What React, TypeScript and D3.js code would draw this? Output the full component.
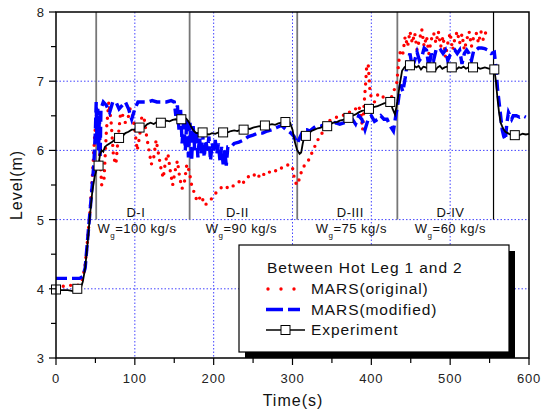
import React from 'react';
import * as d3 from 'd3';

// Time (s), level (m)
const marsOriginal: [number, number][] = [
  [0, 4.03], [5, 4.02], [10, 4.04], [15, 4.05], [20, 4.05], [25, 4.04], [30, 4.06], [34, 4.15],
  [37, 4.35], [40, 4.7], [43, 5.1], [46, 5.6], [49, 6.2], [52, 6.6], [55, 6.0], [58, 5.5],
  [61, 5.6], [64, 6.3], [67, 6.7], [70, 6.4], [73, 5.9], [76, 5.8], [79, 6.2], [82, 6.55],
  [85, 6.5], [88, 6.4], [91, 6.45], [94, 6.6], [97, 6.5], [100, 6.3], [103, 6.0], [106, 6.2],
  [109, 6.5], [112, 6.45], [115, 6.2], [118, 6.0], [121, 5.8], [124, 5.9], [127, 6.15], [130, 5.95],
  [133, 5.75], [136, 5.6], [139, 5.85], [142, 5.95], [145, 5.7], [148, 5.5], [151, 5.7], [154, 5.85],
  [157, 5.6], [160, 5.45], [163, 5.55], [166, 5.8], [169, 5.7], [172, 5.5], [175, 5.4], [178, 5.3],
  [181, 5.35], [184, 5.25], [187, 5.3], [190, 5.22], [193, 5.25], [196, 5.28], [200, 5.35], [204, 5.4],
  [208, 5.45], [212, 5.48], [216, 5.45], [220, 5.5], [224, 5.48], [228, 5.52], [232, 5.55], [236, 5.5],
  [240, 5.58], [244, 5.62], [248, 5.6], [252, 5.65], [256, 5.6], [260, 5.68], [264, 5.65], [268, 5.7],
  [272, 5.68], [276, 5.72], [280, 5.7], [284, 5.75], [288, 5.74], [292, 5.78], [296, 5.8], [300, 5.75],
  [303, 5.55], [306, 5.5], [309, 5.6], [312, 5.72], [316, 5.8], [320, 5.85], [324, 5.95], [328, 6.05],
  [332, 6.15], [336, 6.22], [340, 6.3], [344, 6.38], [348, 6.44], [352, 6.45], [356, 6.48], [360, 6.5],
  [364, 6.5], [368, 6.55], [372, 6.55], [376, 6.6], [380, 6.6], [384, 6.65], [387, 6.5], [389, 6.3],
  [391, 6.7], [393, 7.0], [394, 7.2], [396, 7.25], [398, 6.9], [400, 6.75], [404, 6.7], [408, 6.8],
  [412, 6.75], [416, 6.78], [420, 6.7], [424, 6.72], [428, 6.85], [432, 6.95], [435, 7.3], [437, 7.45],
  [440, 7.4], [443, 7.65], [446, 7.5], [449, 7.72], [452, 7.55], [455, 7.7], [458, 7.45], [461, 7.6],
  [464, 7.75], [467, 7.5], [470, 7.65], [473, 7.4], [476, 7.6], [479, 7.7], [482, 7.55], [485, 7.72],
  [488, 7.5], [491, 7.65], [494, 7.35], [497, 7.55], [500, 7.7], [503, 7.45], [506, 7.62], [509, 7.72],
  [512, 7.55], [515, 7.68], [518, 7.45], [521, 7.6], [524, 7.72], [527, 7.5], [530, 7.65], [533, 7.7],
  [536, 7.55], [539, 7.72], [542, 7.6], [545, 7.7],
];

const marsModified: [number, number][] = [
  [0, 4.15], [10, 4.15], [20, 4.15], [30, 4.15], [34, 4.18], [37, 4.3], [40, 4.7], [43, 5.1],
  [46, 5.5], [48, 5.8], [50, 6.3], [51, 6.7], [52, 6.1], [53, 6.6], [54, 6.0], [55, 6.5],
  [56, 5.9], [57, 6.6], [60, 6.7], [64, 6.65], [68, 6.55], [72, 6.7], [76, 6.7], [80, 6.6],
  [84, 6.65], [88, 6.7], [92, 6.6], [96, 6.45], [100, 6.6], [104, 6.7], [110, 6.7], [116, 6.7],
  [122, 6.72], [128, 6.7], [134, 6.7], [140, 6.7], [146, 6.72], [150, 6.7], [152, 6.5], [154, 6.65],
  [156, 6.3], [158, 6.6], [160, 6.1], [162, 6.5], [164, 6.0], [166, 6.45], [168, 5.9], [170, 6.4],
  [172, 5.85], [174, 6.35], [176, 6.0], [178, 6.3], [180, 5.9], [182, 6.2], [184, 5.95], [186, 6.25],
  [188, 5.9], [190, 6.15], [192, 6.0], [194, 6.2], [196, 5.85], [198, 6.1], [200, 6.0], [202, 6.15],
  [204, 5.95], [206, 6.1], [208, 5.85], [210, 6.05], [212, 5.8], [214, 6.0], [216, 5.78], [218, 6.05],
  [222, 6.05], [226, 6.1], [232, 6.12], [238, 6.15], [244, 6.2], [250, 6.22], [256, 6.25], [262, 6.25],
  [268, 6.28], [274, 6.3], [280, 6.33], [286, 6.36], [292, 6.3], [298, 6.25], [302, 6.2], [306, 6.1],
  [310, 6.2], [314, 6.3], [318, 6.3], [322, 6.28], [326, 6.32], [330, 6.35], [336, 6.35], [342, 6.38],
  [348, 6.35], [354, 6.4], [360, 6.38], [366, 6.4], [372, 6.42], [376, 6.45], [380, 6.38], [384, 6.5],
  [388, 6.45], [392, 6.3], [396, 6.45], [400, 6.5], [404, 6.42], [408, 6.45], [412, 6.5], [416, 6.45],
  [420, 6.45], [424, 6.35], [428, 6.28], [431, 6.5], [434, 6.7], [437, 6.95], [440, 6.85], [443, 7.05],
  [446, 7.3], [449, 7.4], [452, 7.2], [455, 7.3], [458, 7.42], [461, 7.3], [464, 7.35], [467, 7.48],
  [470, 7.45], [473, 7.2], [476, 7.4], [479, 7.3], [482, 7.45], [485, 7.42], [488, 7.45], [491, 7.4],
  [494, 7.45], [497, 7.3], [500, 7.38], [503, 7.42], [506, 7.45], [509, 7.4], [512, 7.45], [515, 7.25],
  [518, 7.4], [521, 7.45], [524, 7.4], [527, 7.3], [530, 7.45], [533, 7.45], [536, 7.48], [540, 7.48],
  [544, 7.47], [548, 7.45], [552, 7.4], [556, 7.42], [558, 7.2], [560, 6.9], [562, 6.7], [564, 6.5],
  [566, 6.3], [568, 6.2], [570, 6.15], [572, 6.4], [574, 6.55], [576, 6.5], [578, 6.45], [580, 6.5],
  [584, 6.5], [588, 6.48], [592, 6.5], [596, 6.48],
];

const experiment: [number, number][] = [
  [0, 3.98], [5, 3.98], [10, 3.98], [15, 3.98], [20, 3.97], [25, 3.96], [28, 3.98], [31, 4.0],
  [34, 4.1], [37, 4.3], [40, 4.65], [43, 5.05], [46, 5.4], [49, 5.62], [52, 5.75], [54, 5.8],
  [56, 5.95], [58, 6.0], [60, 5.98], [62, 6.05], [65, 6.08], [68, 6.1], [71, 6.12], [74, 6.15],
  [77, 6.17], [80, 6.18], [84, 6.2], [88, 6.25], [92, 6.27], [96, 6.3], [100, 6.3], [104, 6.33],
  [108, 6.36], [112, 6.34], [116, 6.38], [120, 6.4], [124, 6.38], [128, 6.41], [132, 6.4], [136, 6.42],
  [140, 6.43], [144, 6.42], [148, 6.44], [152, 6.45], [156, 6.44], [160, 6.46], [163, 6.48], [166, 6.45],
  [169, 6.4], [172, 6.33], [175, 6.28], [178, 6.25], [182, 6.25], [186, 6.26], [190, 6.24], [194, 6.23],
  [198, 6.25], [202, 6.24], [206, 6.26], [210, 6.25], [214, 6.27], [218, 6.26], [222, 6.28], [226, 6.29],
  [230, 6.28], [234, 6.3], [238, 6.3], [242, 6.32], [246, 6.31], [250, 6.33], [254, 6.34], [258, 6.35],
  [262, 6.34], [266, 6.36], [270, 6.37], [274, 6.38], [278, 6.37], [282, 6.39], [286, 6.4], [290, 6.41],
  [294, 6.43], [297, 6.4], [300, 6.3], [303, 6.12], [306, 6.0], [309, 5.95], [311, 5.97], [313, 6.1],
  [315, 6.2], [318, 6.23], [321, 6.25], [324, 6.28], [328, 6.3], [332, 6.32], [336, 6.33], [340, 6.35],
  [344, 6.35], [348, 6.38], [352, 6.4], [356, 6.41], [360, 6.43], [364, 6.44], [368, 6.46], [372, 6.48],
  [376, 6.5], [380, 6.52], [384, 6.55], [388, 6.57], [392, 6.58], [396, 6.6], [400, 6.62], [404, 6.63],
  [408, 6.64], [412, 6.66], [416, 6.68], [420, 6.69], [424, 6.7], [427, 6.6], [430, 6.52], [433, 6.7],
  [436, 6.95], [439, 7.15], [442, 7.2], [445, 7.23], [448, 7.22], [451, 7.18], [454, 7.23], [457, 7.2],
  [460, 7.22], [463, 7.17], [466, 7.21], [469, 7.2], [472, 7.18], [475, 7.2], [478, 7.22], [481, 7.15],
  [484, 7.2], [487, 7.22], [490, 7.18], [493, 7.2], [496, 7.21], [499, 7.2], [502, 7.2], [505, 7.22],
  [508, 7.17], [511, 7.2], [514, 7.19], [517, 7.21], [520, 7.18], [523, 7.2], [526, 7.2], [529, 7.2],
  [532, 7.19], [535, 7.2], [538, 7.18], [541, 7.19], [544, 7.2], [547, 7.19], [550, 7.18], [553, 7.19],
  [556, 7.17], [558, 7.0], [560, 6.75], [562, 6.55], [564, 6.4], [567, 6.32], [570, 6.27], [573, 6.25],
  [576, 6.23], [580, 6.22], [584, 6.23], [588, 6.22], [592, 6.24], [596, 6.23], [600, 6.24],
];

const experimentMarkers: [number, number][] = [
  [0, 3.99], [27, 4.0], [54, 5.78], [80, 6.18], [106, 6.33], [133, 6.4], [159, 6.45], [186, 6.26],
  [212, 6.26], [238, 6.3], [265, 6.36], [291, 6.41], [317, 6.21], [344, 6.35], [371, 6.47], [397, 6.6],
  [424, 6.7], [449, 7.23], [476, 7.2], [502, 7.2], [529, 7.2], [556, 7.17], [582, 6.22],
];

const phaseBounds = [51, 169.5, 306, 433, 555];
const phaseNames = ['D-I', 'D-II', 'D-III', 'D-IV'];
const phaseFlows = ['100', '90', '75', '60'];

const xTicks = [0, 100, 200, 300, 400, 500, 600];
const yTicks = [3, 4, 5, 6, 7, 8];

const legendLabels = ['MARS(original)', 'MARS(modified)', 'Experiment'];

const FONT = 'Arial, "Liberation Sans", Helvetica, sans-serif';

export default function App() {
  const left = 56, right = 529, top = 12, bottom = 358;
  const x = d3.scaleLinear().domain([0, 600]).range([left, right]);
  const y = d3.scaleLinear().domain([3, 8]).range([bottom, top]);
  const line = d3.line<[number, number]>().x(d => x(d[0])).y(d => y(d[1]));

  const xMinor = d3.range(50, 600, 100);
  const yMinor = d3.range(3.5, 8, 1);

  const lg = { x: 239, y: 245, w: 270, h: 107 };

  return (
    <svg width={542} height={414} style={{ position: 'absolute', left: 0, top: 0, background: '#fff' }}
      fontFamily={FONT}>
      {/* grid */}
      {xTicks.slice(1, -1).map(t => (
        <line key={'gx' + t} x1={x(t)} x2={x(t)} y1={top} y2={bottom}
          stroke="#4444ff" strokeWidth={1} strokeDasharray="1.5 2" />
      ))}
      {yTicks.slice(1, -1).map(t => (
        <line key={'gy' + t} x1={left} x2={right} y1={y(t)} y2={y(t)}
          stroke="#4444ff" strokeWidth={1} strokeDasharray="1.5 2" />
      ))}

      {/* phase separators */}
      {phaseBounds.map((t, i) => (
        <line key={'pb' + i} x1={x(t)} x2={x(t)} y1={top} y2={y(5)}
          stroke={i === phaseBounds.length - 1 ? '#000' : '#777'} strokeWidth={i === phaseBounds.length - 1 ? 1.2 : 1.8} />
      ))}

      {/* phase labels */}
      {phaseNames.map((n, i) => {
        const cx = (x(phaseBounds[i]) + x(phaseBounds[i + 1])) / 2;
        return (
          <g key={n} fontSize={13} fill="#111">
            <text x={cx + [-7, -6, 3, 5][i]} y={217} textAnchor="middle" letterSpacing={0.5}>{n}</text>
            <text x={cx + [-6, -2, 4, 5][i]} y={233} textAnchor="middle" letterSpacing={0.5}>
              W<tspan fontSize={8} dy={5}>g</tspan><tspan dy={-5}>={phaseFlows[i]} kg/s</tspan>
            </text>
          </g>
        );
      })}

      {/* series */}
      <path d={line(marsOriginal) || ''} fill="none" stroke="#ff0000" strokeWidth={3.4}
        strokeLinecap="round" strokeDasharray="0 7.5" />
      <path d={line(marsModified) || ''} fill="none" stroke="#0000ff" strokeWidth={3.4}
        strokeDasharray="11 5" />
      <path d={line(experiment) || ''} fill="none" stroke="#000" strokeWidth={1.8} />
      {experimentMarkers.map((d, i) => (
        <rect key={'m' + i} x={x(d[0]) - 4.5} y={y(d[1]) - 4.5} width={9} height={9}
          fill="#fff" stroke="#000" strokeWidth={1} />
      ))}

      {/* frame */}
      <rect x={left} y={top} width={right - left} height={bottom - top} fill="none" stroke="#000" strokeWidth={1.5} />

      {/* axes ticks */}
      {xTicks.map(t => (
        <g key={'xt' + t}>
          <line x1={x(t)} x2={x(t)} y1={bottom} y2={bottom + 7} stroke="#000" strokeWidth={1.2} />
          <text x={x(t)} y={383} textAnchor="middle" fontSize={13} letterSpacing={0.8} fill="#222">{t}</text>
        </g>
      ))}
      {xMinor.map(t => (
        <line key={'xm' + t} x1={x(t)} x2={x(t)} y1={bottom} y2={bottom + 5} stroke="#000" strokeWidth={1.2} />
      ))}
      {yTicks.map(t => (
        <g key={'yt' + t}>
          <line x1={left - 7} x2={left} y1={y(t)} y2={y(t)} stroke="#000" strokeWidth={1.2} />
          <text x={44} y={y(t) + 5} textAnchor="end" fontSize={13} fill="#222">{t}</text>
        </g>
      ))}
      {yMinor.map(t => (
        <line key={'ym' + t} x1={left - 5} x2={left} y1={y(t)} y2={y(t)} stroke="#000" strokeWidth={1.2} />
      ))}

      {/* axis titles */}
      <text x={293} y={406} textAnchor="middle" fontSize={16} letterSpacing={1} fill="#111">Time(s)</text>
      <text transform={`translate(22,${(top + bottom) / 2}) rotate(-90)`} textAnchor="middle" fontSize={16}
        letterSpacing={1} fill="#111">Level(m)</text>

      {/* legend */}
      <rect x={lg.x + 6} y={lg.y + 6} width={lg.w} height={lg.h} fill="#000" />
      <rect x={lg.x} y={lg.y} width={lg.w} height={lg.h} fill="#fff" stroke="#000" strokeWidth={1.2} />
      <text x={267} y={273} fontSize={15.5} letterSpacing={0.9} fill="#111">Between Hot Leg 1 and 2</text>
      {legendLabels.map((l, i) => {
        const yy = 294 + i * 20.5;
        const cy = yy - 5;
        return (
          <g key={l}>
            {i === 0 && <line x1={268} x2={300} y1={cy} y2={cy} stroke="#ff0000" strokeWidth={3.4}
              strokeLinecap="round" strokeDasharray="0 13" />}
            {i === 1 && <line x1={266} x2={300} y1={cy} y2={cy} stroke="#0000ff" strokeWidth={3.4}
              strokeDasharray="17 5" />}
            {i === 2 && <g>
              <line x1={266} x2={305} y1={cy} y2={cy} stroke="#000" strokeWidth={1.6} />
              <rect x={281} y={cy - 4.5} width={9} height={9} fill="#fff" stroke="#000" strokeWidth={1} />
            </g>}
            <text x={311} y={yy} fontSize={15.5} letterSpacing={0.9} fill="#111">{l}</text>
          </g>
        );
      })}
    </svg>
  );
}
